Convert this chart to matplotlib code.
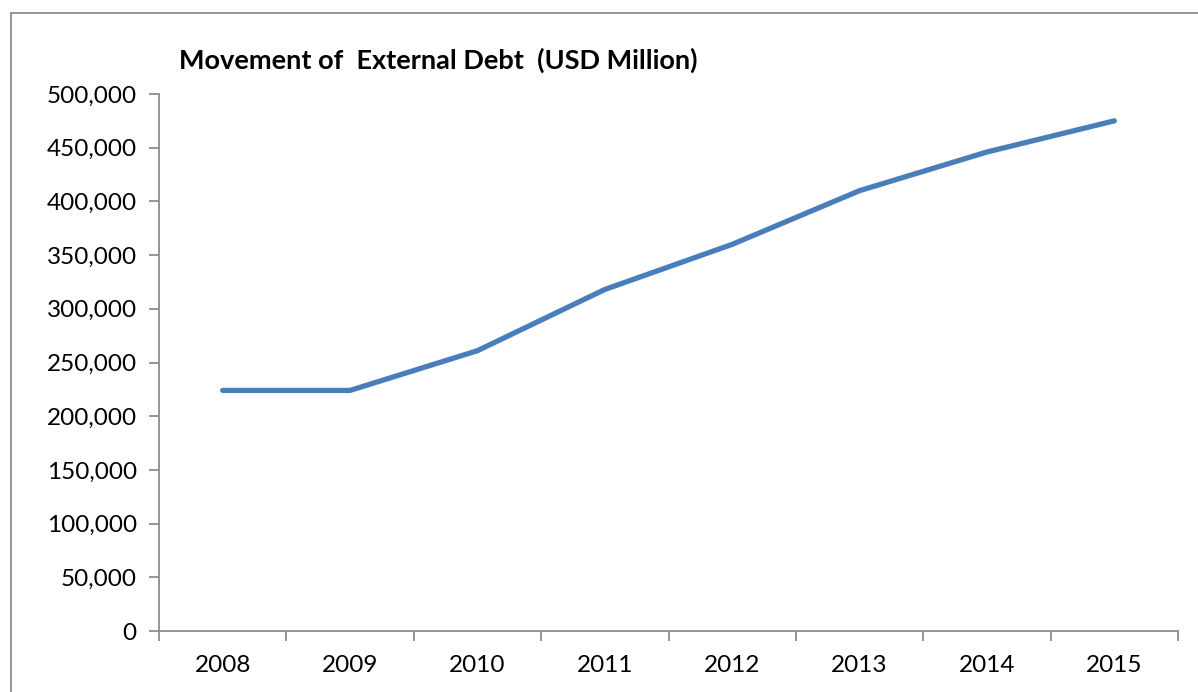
import matplotlib
matplotlib.use("Agg")
import matplotlib.pyplot as plt
from matplotlib.ticker import FuncFormatter, FixedLocator, NullFormatter
from matplotlib.patches import Rectangle

years = ["2008", "2009", "2010", "2011", "2012", "2013", "2014", "2015"]
debt = [224000, 224000, 261000, 318000, 360000, 410000, 446000, 475000]
title = "Movement of  External Debt  (USD Million)"

W, H = 1198, 692
fig = plt.figure(figsize=(W / 100, H / 100), dpi=100)
fig.patch.set_facecolor("white")

# outer chart border
fig.patches.append(Rectangle((11 / W, -0.05), 1.2, (H - 13) / H + 0.05,
                             transform=fig.transFigure, fill=False,
                             edgecolor="#8c8c8c", linewidth=1.3))

left, right, bottom, top = 159 / W, 1178 / W, (H - 631) / H, (H - 94) / H
ax = fig.add_axes([left, bottom, right - left, top - bottom])

x = list(range(len(years)))
ax.plot(x, debt, color="#4A7EBB", linewidth=3.8, solid_capstyle="round",
        solid_joinstyle="round")

ax.set_xlim(-0.5, len(years) - 0.5)
ax.set_ylim(0, 500000)
ax.set_yticks(range(0, 500001, 50000))
ax.yaxis.set_major_formatter(FuncFormatter(lambda v, p: f"{int(v):,}"))

ax.xaxis.set_major_locator(FixedLocator([i - 0.5 for i in range(len(years) + 1)]))
ax.xaxis.set_major_formatter(NullFormatter())
ax.xaxis.set_minor_locator(FixedLocator(x))
ax.set_xticklabels(years, minor=True)
ax.tick_params(axis="x", which="minor", length=0, pad=17)
ax.tick_params(axis="x", which="major", length=7, color="#8c8c8c", width=1.3)
ax.tick_params(axis="y", length=7, color="#8c8c8c", width=1.3, pad=9)

for lab in ax.get_yticklabels() + ax.get_xticklabels(minor=True):
    lab.set_fontfamily("Lato")
    lab.set_fontsize(17.5)
    lab.set_color("black")

for s in ["top", "right"]:
    ax.spines[s].set_visible(False)
for s in ["left", "bottom"]:
    ax.spines[s].set_color("#8c8c8c")
    ax.spines[s].set_linewidth(1.3)

fig.text(179 / W, 1 - 60 / H, title, fontsize=19.5, fontweight="bold",
         fontfamily="Lato", va="center", ha="left", color="black")

fig.savefig("out.png", dpi=100, facecolor="white")
